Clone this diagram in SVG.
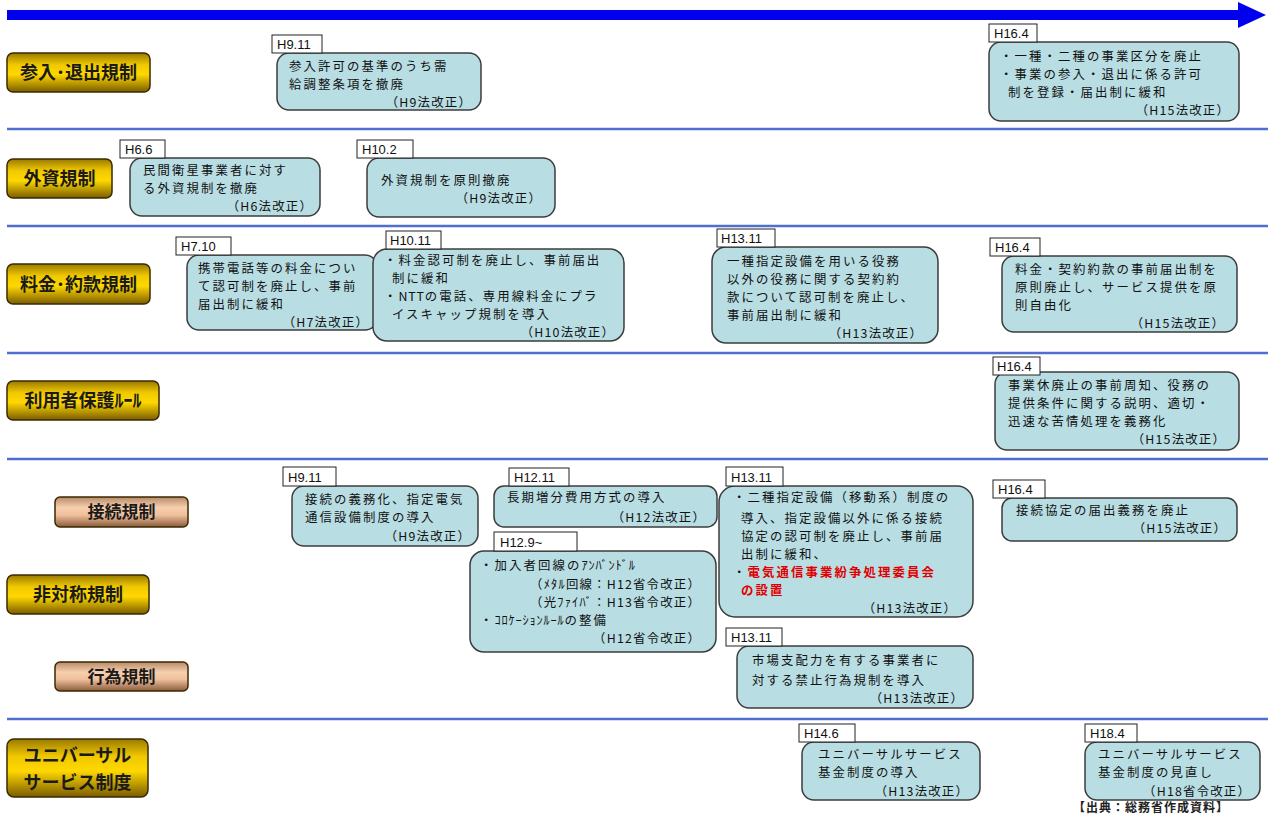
<svg xmlns="http://www.w3.org/2000/svg" width="1268" height="817" viewBox="0 0 1268 817">
<defs>
<linearGradient id="gold" x1="0" y1="0" x2="0" y2="1">
<stop offset="0" stop-color="#9a7a00"/>
<stop offset="0.3" stop-color="#f0c800"/>
<stop offset="0.55" stop-color="#ffd800"/>
<stop offset="1" stop-color="#7a5c00"/>
</linearGradient>
<linearGradient id="copper" x1="0" y1="0" x2="0" y2="1">
<stop offset="0" stop-color="#b88a6a"/>
<stop offset="0.35" stop-color="#f6cfae"/>
<stop offset="0.6" stop-color="#f0c09c"/>
<stop offset="1" stop-color="#8a5c3c"/>
</linearGradient>
</defs>
<style>
.sep{stroke:#4f6fd0;stroke-width:2.5}
.cat{stroke:#3a2a00;stroke-width:1.5}
.catt{font-family:"Noto Sans CJK JP",sans-serif;font-weight:bold;font-size:18px;fill:#1a1a1a;text-anchor:middle}
.box{fill:#b8dde3;stroke:#3c3c3c;stroke-width:1.5}
.tag{fill:#fff;stroke:#222;stroke-width:1}
.tagt{font-family:"Liberation Sans",sans-serif;font-size:13px;fill:#111}
.t{font-family:"Noto Sans CJK JP",sans-serif;font-size:12.4px;letter-spacing:2.1px;fill:#111}
.hw{letter-spacing:0.8px}
.law{letter-spacing:1.2px;text-anchor:end}
.red{fill:#e00000;font-weight:bold}
.src{font-family:"Noto Sans CJK JP",sans-serif;font-size:12px;font-weight:bold;fill:#222;letter-spacing:1px}
</style>

<g id="timeline">
<rect x="7" y="10" width="1235" height="10" fill="#0000ee"/>
<polygon points="1238,2 1266,15 1238,28" fill="#0000ee"/>
</g>

<g id="separators">
<line class="sep" x1="7" y1="129" x2="1268" y2="129"/>
<line class="sep" x1="7" y1="226" x2="1268" y2="226"/>
<line class="sep" x1="7" y1="353" x2="1268" y2="353"/>
<line class="sep" x1="7" y1="459" x2="1268" y2="459"/>
<line class="sep" x1="7" y1="719" x2="1268" y2="719"/>
</g>

<g id="cat-entry"><rect class="cat" x="7" y="53" width="143" height="39" rx="6" fill="url(#gold)"/><text class="catt" x="78.5" y="79">参入･退出規制</text></g>
<g id="cat-foreign"><rect class="cat" x="7" y="159" width="105" height="39" rx="6" fill="url(#gold)"/><text class="catt" x="59.5" y="185">外資規制</text></g>
<g id="cat-tariff"><rect class="cat" x="7" y="264" width="143" height="40" rx="6" fill="url(#gold)"/><text class="catt" x="78.5" y="291">料金･約款規制</text></g>
<g id="cat-user"><rect class="cat" x="7" y="381" width="152" height="39" rx="6" fill="url(#gold)"/><text class="catt" x="83" y="407">利用者保護ﾙｰﾙ</text></g>
<g id="cat-connect"><rect class="cat" x="55" y="497" width="133" height="30" rx="5" fill="url(#copper)"/><text class="catt" x="121.5" y="518" style="font-size:17px">接続規制</text></g>
<g id="cat-asym"><rect class="cat" x="7" y="575" width="142" height="39" rx="6" fill="url(#gold)"/><text class="catt" x="78" y="601">非対称規制</text></g>
<g id="cat-conduct"><rect class="cat" x="55" y="662" width="133" height="29" rx="5" fill="url(#copper)"/><text class="catt" x="121.5" y="682.5" style="font-size:17px">行為規制</text></g>
<g id="cat-universal"><rect class="cat" x="7" y="739" width="141" height="58" rx="7" fill="url(#gold)"/><text class="catt"><tspan x="77.5" y="762">ユニバーサル</tspan><tspan x="77.5" y="789">サービス制度</tspan></text></g>

<g id="n1"><rect class="box" x="277" y="53" width="204" height="57" rx="12"/><rect class="tag" x="272" y="35" width="50" height="18"/><text class="tagt" x="277" y="49">H9.11</text>
<text class="t"><tspan x="289" y="71">参入許可の基準のうち需</tspan><tspan x="289" y="89">給調整条項を撤廃</tspan><tspan class="law" x="472" y="107">（H9法改正）</tspan></text></g>

<g id="n2"><rect class="box" x="989" y="42" width="250" height="79" rx="12"/><rect class="tag" x="989" y="24" width="48" height="18"/><text class="tagt" x="994" y="38">H16.4</text>
<text class="t"><tspan x="1000" y="61">・一種・二種の事業区分を廃止</tspan><tspan x="1000" y="79">・事業の参入・退出に係る許可</tspan><tspan x="1008" y="97">制を登録・届出制に緩和</tspan><tspan class="law" x="1230" y="115">（H15法改正）</tspan></text></g>

<g id="n3"><rect class="box" x="130" y="158" width="190" height="58" rx="12"/><rect class="tag" x="120" y="140" width="45" height="18"/><text class="tagt" x="125" y="154">H6.6</text>
<text class="t"><tspan x="143" y="175">民間衛星事業者に対す</tspan><tspan x="143" y="193">る外資規制を撤廃</tspan><tspan class="law" x="313" y="211">（H6法改正）</tspan></text></g>

<g id="n4"><rect class="box" x="367" y="158" width="188" height="59" rx="12"/><rect class="tag" x="357" y="140" width="56" height="18"/><text class="tagt" x="362" y="154">H10.2</text>
<text class="t"><tspan x="381" y="185">外資規制を原則撤廃</tspan><tspan class="law" x="542" y="203">（H9法改正）</tspan></text></g>

<g id="n5"><rect class="box" x="187" y="255" width="190" height="75" rx="12"/><rect class="tag" x="176" y="237" width="55" height="18"/><text class="tagt" x="181" y="251">H7.10</text>
<text class="t"><tspan x="198" y="273">携帯電話等の料金につい</tspan><tspan x="198" y="291">て認可制を廃止し、事前</tspan><tspan x="198" y="309">届出制に緩和</tspan><tspan class="law" x="369" y="327">（H7法改正）</tspan></text></g>

<g id="n6"><rect class="box" x="373" y="249" width="251" height="92" rx="14"/><rect class="tag" x="386" y="231" width="55" height="18"/><text class="tagt" x="390" y="245">H10.11</text>
<text class="t"><tspan x="384" y="265">・料金認可制を廃止し、事前届出</tspan><tspan x="392" y="283">制に緩和</tspan><tspan x="384" y="301">・</tspan><tspan class="hw">NTT</tspan><tspan>の電話、専用線料金にプラ</tspan><tspan x="392" y="319">イスキャップ規制を導入</tspan><tspan class="law" x="615" y="337">（H10法改正）</tspan></text></g>

<g id="n7"><rect class="box" x="712" y="247" width="226" height="96" rx="14"/><rect class="tag" x="717" y="229" width="58" height="18"/><text class="tagt" x="721" y="243">H13.11</text>
<text class="t"><tspan x="727" y="266">一種指定設備を用いる役務</tspan><tspan x="727" y="284">以外の役務に関する契約約</tspan><tspan x="727" y="302">款について認可制を廃止し、</tspan><tspan x="727" y="320">事前届出制に緩和</tspan><tspan class="law" x="923" y="338">（H13法改正）</tspan></text></g>

<g id="n8"><rect class="box" x="1002" y="256" width="235" height="76" rx="12"/><rect class="tag" x="990" y="238" width="50" height="18"/><text class="tagt" x="995" y="252">H16.4</text>
<text class="t"><tspan x="1015" y="274">料金・契約約款の事前届出制を</tspan><tspan x="1015" y="292">原則廃止し、サービス提供を原</tspan><tspan x="1015" y="310">則自由化</tspan><tspan class="law" x="1225" y="328">（H15法改正）</tspan></text></g>

<g id="n9"><rect class="box" x="995" y="372" width="244" height="78" rx="12"/><rect class="tag" x="993" y="357" width="47" height="18"/><text class="tagt" x="997" y="371">H16.4</text>
<text class="t"><tspan x="1008" y="390">事業休廃止の事前周知、役務の</tspan><tspan x="1008" y="408">提供条件に関する説明、適切・</tspan><tspan x="1008" y="426">迅速な苦情処理を義務化</tspan><tspan class="law" x="1226" y="444">（H15法改正）</tspan></text></g>

<g id="n10"><rect class="box" x="292" y="486" width="186" height="60" rx="12"/><rect class="tag" x="283" y="467" width="53" height="19"/><text class="tagt" x="288" y="482">H9.11</text>
<text class="t"><tspan x="305" y="504">接続の義務化、指定電気</tspan><tspan x="305" y="522">通信設備制度の導入</tspan><tspan class="law" x="471" y="541">（H9法改正）</tspan></text></g>

<g id="n11"><rect class="box" x="494" y="486" width="223" height="41" rx="10"/><rect class="tag" x="509" y="468" width="60" height="18"/><text class="tagt" x="514" y="482">H12.11</text>
<text class="t"><tspan x="507" y="502">長期増分費用方式の導入</tspan><tspan class="law" x="706" y="522">（H12法改正）</tspan></text></g>

<g id="n12"><rect class="box" x="470" y="551" width="246" height="101" rx="14"/><rect class="tag" x="494" y="532" width="83" height="19"/><text class="tagt" x="500" y="547">H12.9~</text>
<text class="t"><tspan x="480" y="570">・加入者回線の</tspan><tspan class="hw">ｱﾝﾊﾞﾝﾄﾞﾙ</tspan><tspan class="law" x="701" y="589">（ﾒﾀﾙ回線：H12省令改正）</tspan><tspan class="law" x="701" y="607">（光ﾌｧｲﾊﾞ：H13省令改正）</tspan><tspan x="480" y="625">・</tspan><tspan class="hw">ｺﾛｹｰｼｮﾝﾙｰﾙ</tspan><tspan>の整備</tspan><tspan class="law" x="701" y="643">（H12省令改正）</tspan></text></g>

<g id="n13"><rect class="box" x="719" y="486" width="254" height="131" rx="16"/><rect class="tag" x="726" y="467" width="57" height="19"/><text class="tagt" x="731" y="482">H13.11</text>
<text class="t"><tspan x="733" y="502">・二種指定設備（移動系）制度の</tspan><tspan x="741" y="523">導入、指定設備以外に係る接続</tspan><tspan x="741" y="541">協定の認可制を廃止し、事前届</tspan><tspan x="741" y="559">出制に緩和、</tspan><tspan x="733" y="577">・</tspan><tspan class="red">電気通信事業紛争処理委員会</tspan><tspan class="red" x="741" y="595">の設置</tspan><tspan class="law" x="957" y="613">（H13法改正）</tspan></text></g>

<g id="n14"><rect class="box" x="1002" y="498" width="235" height="43" rx="10"/><rect class="tag" x="993" y="480" width="52" height="18"/><text class="tagt" x="998" y="494">H16.4</text>
<text class="t"><tspan x="1016" y="515">接続協定の届出義務を廃止</tspan><tspan class="law" x="1227" y="533">（H15法改正）</tspan></text></g>

<g id="n15"><rect class="box" x="737" y="646" width="236" height="62" rx="12"/><rect class="tag" x="726" y="628" width="56" height="18"/><text class="tagt" x="731" y="642">H13.11</text>
<text class="t"><tspan x="752" y="665">市場支配力を有する事業者に</tspan><tspan x="752" y="685">対する禁止行為規制を導入</tspan><tspan class="law" x="964" y="703">（H13法改正）</tspan></text></g>

<g id="n16"><rect class="box" x="802" y="742" width="178" height="58" rx="12"/><rect class="tag" x="799" y="724" width="56" height="18"/><text class="tagt" x="804" y="738">H14.6</text>
<text class="t"><tspan x="818" y="759">ユニバーサルサービス</tspan><tspan x="818" y="777">基金制度の導入</tspan><tspan class="law" x="969" y="796">（H13法改正）</tspan></text></g>

<g id="n17"><rect class="box" x="1085" y="742" width="175" height="58" rx="12"/><rect class="tag" x="1085" y="724" width="52" height="18"/><text class="tagt" x="1090" y="738">H18.4</text>
<text class="t"><tspan x="1098" y="759">ユニバーサルサービス</tspan><tspan x="1098" y="777">基金制度の見直し</tspan><tspan class="law" x="1251" y="796">（H18省令改正）</tspan></text></g>

<text class="src" x="1073" y="812">【出典：総務省作成資料】</text>
</svg>
